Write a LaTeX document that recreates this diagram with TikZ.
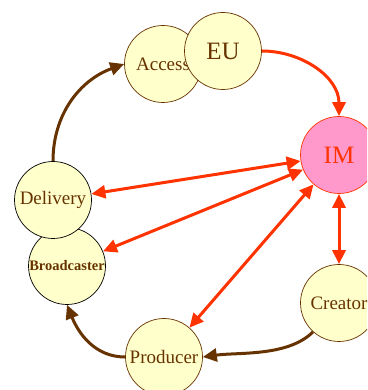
\documentclass[tikz,border=0pt]{standalone}
\usepackage{fontspec}
\setmainfont{Liberation Serif}
\usetikzlibrary{arrows.meta}
\definecolor{paleyellow}{HTML}{FFFFCC}
\definecolor{darkbrown}{HTML}{663300}
\definecolor{flamered}{HTML}{FF3300}
\definecolor{pinkfill}{HTML}{FF99CC}
\newcommand{\tipL}{14pt}
\newcommand{\tipW}{13pt}
\tikzstyle{actor}=[circle, minimum size=77pt, inner sep=0pt, fill=paleyellow, draw=darkbrown, text=darkbrown, line width=0.7pt, font=\fontsize{19}{19}\selectfont]
\tikzstyle{blackrim}=[actor, draw=black]
\tikzstyle{hub}=[actor, fill=pinkfill, draw=flamered, text=flamered, font=\fontsize{25}{25}\selectfont]
\tikzstyle{flow}=[-{Triangle[length=\tipL,width=\tipW]}, line width=3pt, darkbrown]
\tikzstyle{push}=[-{Triangle[length=\tipL,width=\tipW]}, line width=3pt, flamered]
\tikzstyle{link}=[{Triangle[length=\tipL,width=\tipW]}-{Triangle[length=\tipL,width=\tipW]}, line width=3pt, flamered]

\begin{document}
\begin{tikzpicture}[x=1pt,y=1pt]
\clip (0,0) rectangle (367,390);
% the ring of parties, EU sits over Access
\node[actor] (access) at (163,326) {Access};
\node[actor, font=\fontsize{25}{25}\selectfont] (eu) at (223,339) {EU};
\node[hub] (im) at (339,235) {IM};
\node[blackrim, font=\fontsize{14.5}{14.5}\selectfont\bfseries] (broad) at (67,124) {Broadcaster};
\node[blackrim] (deliv) at (53,190) {Delivery};
\node[actor] (prod) at (164,33) {Producer};
\node[actor] (creat) at (339,87) {Creator};
% chain round the outside
\draw[flow] (deliv.north) to[out=90,in=200] (access.west);
\draw[flow] (creat.228) to[out=-135,in=8,looseness=0.8] (prod.east);
\draw[flow] (prod.west) to[out=180,in=-68] (broad.south);
\draw[push] (eu.east) to[out=0,in=90] (im.north);
% links to IM
\draw[link] (im) -- (deliv);
\draw[link] (im) -- (broad);
\draw[link] (im) -- (prod);
\draw[link] (im) -- (creat);
\end{tikzpicture}
\end{document}
